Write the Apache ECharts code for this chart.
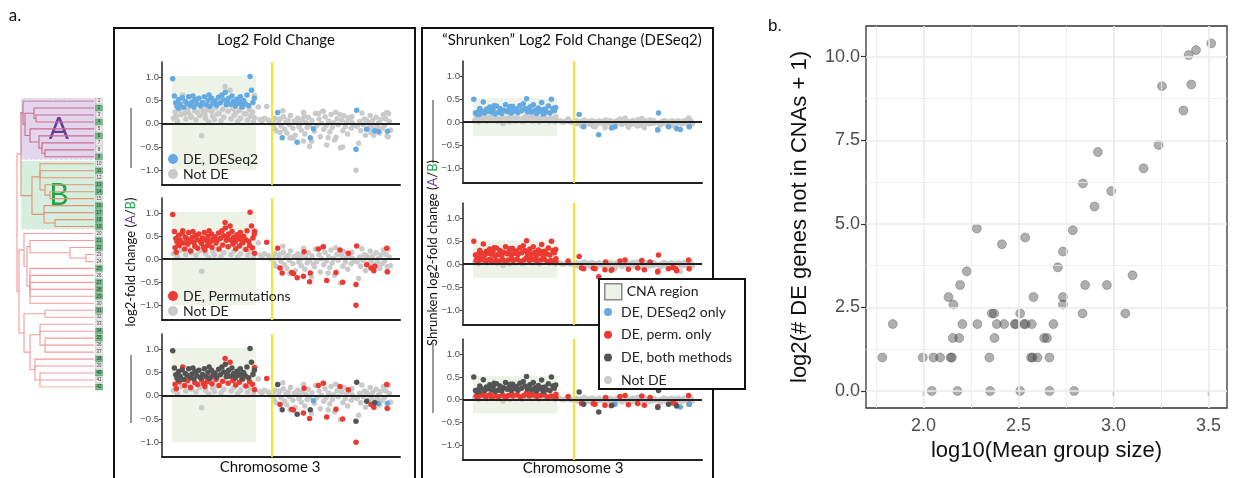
<!DOCTYPE html>
<html>
<head>
<meta charset="utf-8">
<script src="https://cdn.jsdelivr.net/npm/echarts@6/dist/echarts.min.js"></script>
<style>
  html, body { margin: 0; padding: 0; background: #ffffff; }
  #chart { width: 1233px; height: 478px; }
</style>
</head>
<body>
<div id="chart"></div>
<script>
// ---------------------------------------------------------------------------
// Data
// ---------------------------------------------------------------------------

// Chromosome 3 genes: [position along chromosome (%), log2FC, shrunken log2FC, DE class]
// DE class: 0 = not DE, 1 = DESeq2 only, 2 = permutations only, 3 = both methods
const chr3Genes = [
  // CNA region, DE by both methods
  [4.5,0.97,0.50,3],[5.2,0.60,0.20,3],[5.8,0.45,0.18,3],[6.3,0.38,0.22,3],[7.0,0.52,0.30,3],
  [7.6,0.42,0.25,3],[8.5,0.56,0.44,3],[9.1,0.35,0.20,3],[9.8,0.48,0.28,3],[10.5,0.44,0.24,3],
  [11.2,0.58,0.33,3],[11.9,0.40,0.22,3],[12.6,0.47,0.27,3],[13.4,0.36,0.18,3],[14.0,0.52,0.35,3],
  [14.7,0.43,0.21,3],[15.5,0.55,0.30,3],[16.2,0.39,0.19,3],[17.0,0.46,0.26,3],[17.8,0.58,0.38,3],
  [18.5,0.41,0.23,3],[19.3,0.50,0.28,3],[20.1,0.37,0.20,3],[20.8,0.55,0.34,3],[21.5,0.44,0.24,3],
  [22.3,0.49,0.29,3],[23.0,0.40,0.21,3],[23.8,0.57,0.36,3],[24.5,0.45,0.25,3],[25.2,0.62,0.40,3],
  [25.9,0.51,0.30,3],[26.6,0.68,0.51,3],[27.3,0.47,0.27,3],[28.0,0.55,0.33,3],[28.7,0.42,0.22,3],
  [29.4,0.60,0.38,3],[30.1,0.48,0.26,3],[30.8,0.38,0.19,3],[31.5,0.53,0.31,3],[32.2,0.44,0.24,3],
  [32.9,0.58,0.43,3],[33.6,0.36,0.18,3],[34.3,0.50,0.28,3],[35.0,0.43,0.22,3],[35.7,0.62,0.35,3],
  [36.4,0.39,0.20,3],[37.0,1.02,0.50,3],[37.6,0.72,0.30,3],[38.2,0.46,0.25,3],[38.8,0.55,0.32,3],
  [6.8,0.34,0.17,3],[13.0,0.60,0.36,3],[19.8,0.62,0.34,3],[27.0,0.41,0.23,3],[33.2,0.47,0.27,3],
  // CNA region, permutations only
  [5.5,0.25,0.08,2],[6.0,0.15,0.05,2],[7.3,0.30,0.09,2],[8.7,0.62,0.12,2],[9.5,0.22,0.06,2],
  [10.8,0.33,0.10,2],[12.0,0.18,0.05,2],[13.8,0.28,0.08,2],[15.0,0.24,0.07,2],[16.6,0.34,0.10,2],
  [18.0,0.20,0.06,2],[19.0,0.30,0.09,2],[21.0,0.26,0.08,2],[22.7,0.35,0.11,2],[24.0,0.22,0.06,2],
  [25.5,0.31,0.09,2],[26.5,0.80,0.14,2],[27.8,0.27,0.08,2],[28.6,0.72,0.13,2],[29.8,0.33,0.10,2],
  [31.0,0.23,0.07,2],[32.5,0.29,0.09,2],[34.0,0.36,0.11,2],[35.3,0.21,0.06,2],[36.8,0.30,0.08,2],
  [38.0,0.25,0.07,2],[38.9,0.61,0.12,2],[38.9,0.13,0.04,2],[11.5,0.38,0.11,2],[20.5,0.40,0.12,2],
  [30.5,0.42,0.12,2],[17.5,0.26,0.07,2],
  // CNA region, not DE
  [4.8,0.12,0.03,0],[6.5,0.05,0.01,0],[8.0,0.20,0.04,0],[10.0,0.10,0.02,0],[11.0,0.25,0.05,0],
  [12.3,0.14,0.03,0],[14.3,0.08,0.02,0],[15.8,0.18,0.04,0],[16.7,-0.26,-0.03,0],[18.3,0.12,0.03,0],
  [19.6,0.04,0.01,0],[21.3,0.16,0.03,0],[22.0,0.09,0.02,0],[23.4,0.21,0.05,0],[24.8,0.06,0.01,0],
  [26.0,0.14,0.03,0],[27.5,0.52,0.06,0],[29.0,0.10,0.02,0],[30.3,0.18,0.04,0],[31.8,0.05,0.01,0],
  [33.0,0.12,0.03,0],[34.6,0.22,0.05,0],[36.0,0.08,0.02,0],[37.3,0.16,0.04,0],[38.5,0.04,0.01,0],
  // between the CNA region and the centromere
  [40.5,0.36,0.03,0],[41.2,0.09,0.01,0],[42.0,0.04,0.00,0],[43.0,0.12,0.02,0],[44.6,0.08,0.01,0],
  [45.5,0.02,0.00,0],[44.0,0.37,0.07,2],
  // outside the CNA region, DE by both methods / DESeq2 only
  [48.6,0.24,0.17,3],[50.5,-0.30,-0.10,3],[56.8,-0.40,-0.27,3],[62.3,-0.30,-0.12,3],
  [81.8,0.29,0.20,3],[81.5,-0.55,-0.17,3],[86.0,-0.12,-0.10,3],[89.4,-0.15,-0.14,3],
  [63.6,-0.11,-0.10,1],[90.9,-0.17,-0.16,1],[94.7,-0.16,-0.10,1],
  // outside the CNA region, permutations only
  [49.6,-0.19,-0.08,2],[54.5,-0.29,-0.09,2],[55.2,-0.31,-0.10,2],[59.4,-0.37,-0.12,2],
  [59.7,0.16,0.05,2],[62.0,-0.49,-0.13,2],[65.7,0.22,0.07,2],[67.8,0.27,0.09,2],
  [69.2,-0.46,-0.11,2],[73.1,-0.29,-0.08,2],[74.8,0.20,0.08,2],[75.9,-0.50,-0.12,2],
  [78.3,0.13,0.05,2],[81.5,-1.00,-0.15,2],[87.8,-0.19,-0.07,2],[89.0,-0.25,-0.10,2],
  [94.4,0.24,0.09,2],[94.6,-0.27,-0.10,2],
  // outside the CNA region, not DE
  [46.5,0.05,0.01,0],[47.0,-0.08,-0.02,0],[47.5,0.12,0.03,0],[48.0,-0.15,-0.03,0],[49.0,0.02,0.00,0],
  [49.5,0.10,0.02,0],[50.0,-0.05,-0.01,0],[51.0,0.15,0.03,0],[51.5,-0.12,-0.03,0],[52.0,0.04,0.01,0],
  [52.5,-0.20,-0.04,0],[53.0,0.08,0.02,0],[53.5,-0.02,0.00,0],[54.0,0.18,0.04,0],[55.0,-0.10,-0.02,0],
  [55.5,0.06,0.01,0],[56.0,-0.25,-0.05,0],[57.0,0.12,0.03,0],[57.5,-0.06,-0.01,0],[58.0,0.00,0.00,0],
  [58.5,-0.14,-0.03,0],[59.0,0.09,0.02,0],[60.0,-0.22,-0.04,0],[60.5,0.03,0.01,0],[61.0,-0.08,-0.02,0],
  [61.5,0.14,0.03,0],[62.0,-0.03,-0.01,0],[63.0,0.07,0.01,0],[64.0,-0.16,-0.03,0],[64.5,0.22,0.04,0],
  [65.0,-0.05,-0.01,0],[66.0,0.10,0.02,0],[66.5,-0.28,-0.05,0],[67.0,0.01,0.00,0],[68.0,-0.12,-0.02,0],
  [68.5,0.15,0.03,0],[69.0,-0.04,-0.01,0],[70.0,0.06,0.01,0],[70.5,-0.18,-0.04,0],[71.0,0.20,0.04,0],
  [71.5,-0.08,-0.02,0],[72.0,0.02,0.00,0],[72.5,-0.35,-0.06,0],[73.5,0.11,0.02,0],[74.0,-0.02,0.00,0],
  [75.0,-0.52,-0.07,0],[75.5,0.08,0.02,0],[76.0,-0.15,-0.03,0],[76.5,0.17,0.03,0],[77.0,-0.06,-0.01,0],
  [77.5,0.04,0.01,0],[78.0,-0.22,-0.04,0],[79.0,0.09,0.02,0],[79.5,-0.10,-0.02,0],[80.0,0.02,0.00,0],
  [80.5,-0.04,-0.01,0],[82.0,-0.06,-0.01,0],[82.6,-0.42,-0.06,0],[83.0,0.05,0.01,0],[83.5,-0.15,-0.03,0],
  [84.0,0.23,0.04,0],[84.5,-0.02,0.00,0],[85.0,0.10,0.02,0],[85.5,-0.25,-0.05,0],[86.5,0.04,0.01,0],
  [87.0,-0.08,-0.02,0],[87.5,0.18,0.03,0],[88.0,-0.03,-0.01,0],[88.5,0.07,0.01,0],[89.0,-0.12,-0.02,0],
  [90.0,0.14,0.03,0],[90.5,-0.06,-0.01,0],[91.0,0.02,0.00,0],[91.5,-0.20,-0.04,0],[92.0,0.09,0.02,0],
  [92.5,-0.10,-0.02,0],[93.0,0.20,0.04,0],[93.5,-0.04,-0.01,0],[94.0,0.11,0.02,0],[95.0,-0.28,-0.05,0],
  [95.5,0.05,0.01,0],[96.0,-0.14,-0.03,0],[95.2,0.22,0.04,0],[73.0,0.25,0.05,0],[67.5,0.27,0.05,0],
  [59.5,0.24,0.04,0],[53.8,-0.31,-0.05,0],[50.8,0.28,0.05,0],[62.8,-0.38,-0.06,0],[57.2,0.02,0.00,0],
  [69.8,-0.30,-0.05,0],[79.8,0.15,0.03,0],[85.8,0.08,0.01,0]
];

// CNA region on chromosome 3: [start, end, lower, upper] in each panel's units
const cnaRegionLfc = [4.2, 39.5, -1.0, 1.03];
const cnaRegionShrunk = [4.2, 39.5, -0.3, 0.52];
const centromerePos = 46.2;
const lfcTicks = [-1, -0.5, 0, 0.5, 1];

// Clone dendrogram: internal node = [merge height, ...children]; leaf = clone number
const dendroTree = [77,
  [73,
    [71, 1, [69, [60, 2, [58, 3, 4]], [64, 5, [55, 6, [52, 7, [49, 8, 9]]]]]],
    [62, [54, 10, 11, 12, [49, 13, [44, 14, 15]]], [50, 16, 17, [39, 18, 19]]]
  ],
  [75,
    [70, 20, [67, [64, 21, [24, 22, [8, 23, 24]]], [64, 25, 26, 27, 28, 29, 30]]],
    [70, [49, 31, 32], [64, [54, 33, 34, [49, 35, 36, 37]], [59, 38, 39, [54, 40, 41, 42]]]]
  ]
];
// 1 = clone carries the CNA (green tag), 0 = does not
const leafTagged = [0,1,0,1,0,1,0,0,1,0, 1,0,1,1,0,1,1,1,1,0, 1,1,0,0,1,0,1,1,1,0,
                    1,0,0,1,1,0,0,1,0,1, 0,1];
// Highlighted clone groups: [label, first clone, last clone]
const cloneGroups = [['A', 1, 9], ['B', 10, 19]];

// Panel b: one point per comparison
const groupSizeLog10 = [
  3.514,3.434,3.395,3.409,3.255,3.368,3.237,2.918,3.158,2.839,2.988,2.900,2.281,2.786,2.535,2.413,
  2.734,2.707,2.228,3.100,2.193,2.851,2.965,2.132,2.579,2.734,2.158,2.734,2.360,2.372,2.509,2.837,
  3.062,1.839,2.205,2.284,2.386,2.425,2.480,2.487,2.528,2.538,2.570,2.684,2.155,2.188,2.374,2.635,
  2.650,1.784,1.997,2.053,2.088,2.143,2.150,2.347,2.566,2.574,2.600,2.663,2.044,2.179,2.351,2.509,
  2.663,2.793
];
const deGenesLog2 = [
  10.40,10.20,10.05,9.17,9.12,8.39,7.36,7.15,6.66,6.21,5.98,5.52,4.86,4.81,4.59,4.39,
  4.17,3.70,3.58,3.46,3.17,3.17,3.17,2.81,2.81,2.81,2.585,2.585,2.32,2.32,2.32,2.32,
  2.32,2.0,2.0,2.0,2.0,2.0,2.0,2.0,2.0,2.0,2.0,2.0,1.585,1.585,1.585,1.585,
  1.585,1.0,1.0,1.0,1.0,1.0,1.0,1.0,1.0,1.0,1.0,1.0,0,0,0,0,
  0,0
];
const bTicksX = [2.0, 2.5, 3.0, 3.5];
const bTicksY = [0, 2.5, 5.0, 7.5, 10.0];
const bMinorX = [1.75, 2.25, 2.75, 3.25];
const bMinorY = [1.25, 3.75, 6.25, 8.75];

// ---------------------------------------------------------------------------
// Styling
// ---------------------------------------------------------------------------
const FONT_A = 'Lato, "Open Sans", sans-serif';
const FONT_B = '"Liberation Sans", Arial, sans-serif';
const C = {
  notDE: '#cacaca', deseq: '#63a9e2', perm: '#ec3a32', both: '#545454',
  cna: '#edf3e6', yellow: '#f2e532', axis: '#222222',
  groupA: '#e3d6ec', groupB: '#d5eedf', edgeA: '#cc6a8c', edgeB: '#e3936f', edge: '#f39a9a',
  tagOn: '#55a66c', tagOff: '#e2e2e2', letterA: '#6a3d9a', letterB: '#1aa64a'
};

// ---------------------------------------------------------------------------
// Panel a: chromosome 3 scatter grids
// ---------------------------------------------------------------------------
const panels = [
  { left: 162, top: 62,  width: 238, height: 123, col: 2, mode: 'deseq' },
  { left: 162, top: 198, width: 238, height: 122, col: 2, mode: 'perm' },
  { left: 162, top: 334, width: 238, height: 123, col: 2, mode: 'all' },
  { left: 463, top: 61,  width: 239, height: 122, col: 3, mode: 'deseq' },
  { left: 463, top: 203, width: 239, height: 122, col: 3, mode: 'perm' },
  { left: 463, top: 339, width: 239, height: 121, col: 3, mode: 'all' }
];

const grids = [], xAxes = [], yAxes = [], series = [];
const fmtTick = v => (v < 0 ? '\u2212' : '') + Math.abs(v).toFixed(1);

function genePoints(col, test) {
  return chr3Genes.filter(g => test(g[3])).map(g => [g[0], g[col]]);
}

panels.forEach((p, i) => {
  grids.push({ left: p.left, top: p.top, width: p.width, height: p.height, containLabel: false });
  xAxes.push({
    gridIndex: i, type: 'value', min: 0, max: 100,
    axisLine: { show: true, onZero: false, lineStyle: { color: C.axis, width: 2 } },
    axisTick: { show: false }, axisLabel: { show: false }, splitLine: { show: false }
  });
  yAxes.push({
    gridIndex: i, type: 'value', min: -1.32, max: 1.33,
    axisLine: { show: true, onZero: false, lineStyle: { color: C.axis, width: 1.5 } },
    axisTick: { show: true, length: 3, customValues: lfcTicks, lineStyle: { color: '#444', width: 1 } },
    axisLabel: { customValues: lfcTicks, formatter: fmtTick, fontSize: 9.5, color: '#4d4d4d',
                 fontFamily: FONT_B, margin: 3 },
    splitLine: { show: false }
  });

  const region = p.col === 2 ? cnaRegionLfc : cnaRegionShrunk;
  series.push({
    type: 'custom', name: 'CNA region', xAxisIndex: i, yAxisIndex: i, z: 1, silent: true,
    itemStyle: { color: C.cna, borderColor: '#999', borderWidth: 1 },
    data: [region],
    renderItem: (params, api) => {
      const a = api.coord([api.value(0), api.value(3)]);
      const b = api.coord([api.value(1), api.value(2)]);
      return { type: 'rect', shape: { x: a[0], y: a[1], width: b[0] - a[0], height: b[1] - a[1] },
               style: { fill: C.cna } };
    }
  });

  const layers = [];
  if (p.mode === 'deseq') {
    layers.push(['Not DE', C.notDE, c => c === 0 || c === 2]);
    layers.push(['DE, DESeq2', C.deseq, c => c === 1 || c === 3]);
  } else if (p.mode === 'perm') {
    layers.push(['Not DE', C.notDE, c => c === 0 || c === 1]);
    layers.push(['DE, Permutations', C.perm, c => c === 2 || c === 3]);
  } else {
    layers.push(['Not DE', C.notDE, c => c === 0]);
    layers.push(['DE, perm. only', C.perm, c => c === 2]);
    layers.push(['DE, DESeq2 only', C.deseq, c => c === 1]);
    layers.push(['DE, both methods', C.both, c => c === 3]);
  }
  layers.forEach(([name, color, test]) => {
    series.push({
      type: 'scatter', name, xAxisIndex: i, yAxisIndex: i, z: 2, silent: true,
      symbolSize: 5.5, itemStyle: { color, opacity: 1 },
      data: genePoints(p.col === 2 ? 1 : 2, test)
    });
  });

  // zero line and centromere marker
  series.push({
    type: 'scatter', xAxisIndex: i, yAxisIndex: i, z: 3, silent: true, symbolSize: 0,
    data: [[0, 0]],
    markLine: {
      silent: true, symbol: ['none', 'none'], label: { show: false }, animation: false,
      data: [
        { xAxis: centromerePos, lineStyle: { color: C.yellow, width: 2, type: 'solid' } },
        { yAxis: 0, lineStyle: { color: C.axis, width: 2, type: 'solid' } }
      ]
    }
  });
});

// ---------------------------------------------------------------------------
// Dendrogram (grid 6)
// ---------------------------------------------------------------------------
const DG = grids.length;
grids.push({ left: 17, top: 101, width: 88, height: 286 });
xAxes.push({ gridIndex: DG, type: 'value', min: -11, max: 77, inverse: true, show: false });
yAxes.push({ gridIndex: DG, type: 'value', min: 1, max: 42, inverse: true, show: false });

const segments = [];
function groupColor(leaves) {
  for (const [label, a, b] of cloneGroups) {
    if (leaves.every(l => l >= a && l <= b)) return label === 'A' ? C.edgeA : C.edgeB;
  }
  return C.edge;
}
function layout(node) {
  if (typeof node === 'number') return { y: node, h: 0, leaves: [node] };
  const h = node[0];
  const kids = node.slice(1).map(layout);
  const y = (kids[0].y + kids[kids.length - 1].y) / 2;
  kids.forEach(k => {
    segments.push({ coords: [[h, y], [h, k.y], [k.h, k.y]], lineStyle: { color: groupColor(k.leaves) } });
  });
  return { y, h, leaves: kids.flatMap(k => k.leaves) };
}
layout(dendroTree);

series.push({
  type: 'custom', xAxisIndex: DG, yAxisIndex: DG, z: 1, silent: true, clip: false,
  data: cloneGroups.map(g => [g[1], g[2]]),
  renderItem: (params, api) => {
    const label = cloneGroups[params.dataIndex][0];
    const a = api.coord([73, api.value(0) - 0.45]);
    const b = api.coord([-3, api.value(1) + 0.45]);
    const cx = (a[0] + b[0]) / 2, cy = (a[1] + b[1]) / 2;
    return {
      type: 'group',
      children: [
        { type: 'rect', shape: { x: a[0], y: a[1], width: b[0] - a[0], height: b[1] - a[1] },
          style: { fill: label === 'A' ? C.groupA : C.groupB, stroke: '#ffffff', lineWidth: 1, lineDash: [3, 2] } },
        { type: 'text', z2: 10,
          style: { text: label, x: cx, y: cy, fill: label === 'A' ? C.letterA : C.letterB,
                   fontSize: 30, fontFamily: FONT_A, align: 'center', verticalAlign: 'middle',
                   textAlign: 'center', textVerticalAlign: 'middle' } }
      ]
    };
  }
});
series.push({
  type: 'lines', coordinateSystem: 'cartesian2d', xAxisIndex: DG, yAxisIndex: DG,
  polyline: true, z: 2, silent: true,
  lineStyle: { width: 1.1, opacity: 1 },
  data: segments
});
series.push({
  type: 'scatter', xAxisIndex: DG, yAxisIndex: DG, z: 3, silent: true,
  symbol: 'rect', symbolSize: [7, 6],
  data: leafTagged.map((t, i) => ({
    value: [-5, i + 1],
    itemStyle: { color: t ? C.tagOn : C.tagOff, borderColor: t ? '#3d8a53' : '#b0b0b0', borderWidth: 0.5 }
  })),
  label: { show: true, position: 'inside', formatter: p => String(p.value[1]),
           fontSize: 4.5, color: '#111', fontFamily: FONT_B }
});

// ---------------------------------------------------------------------------
// Panel b (grid 7)
// ---------------------------------------------------------------------------
const BG = grids.length;
grids.push({ left: 866, top: 26, width: 361, height: 382, show: true,
             borderColor: '#333', borderWidth: 1.3, backgroundColor: '#ffffff' });
xAxes.push({
  gridIndex: BG, type: 'value', min: 1.698, max: 3.597,
  axisLine: { show: false },
  axisTick: { show: true, length: 5, customValues: bTicksX, lineStyle: { color: '#333', width: 1.2 } },
  axisLabel: { customValues: bTicksX, formatter: v => v.toFixed(1), fontSize: 18, color: '#4d4d4d',
               fontFamily: FONT_B, margin: 9 },
  splitLine: { show: false },
  name: 'log10(Mean group size)', nameLocation: 'middle', nameGap: 32,
  nameTextStyle: { fontSize: 22, color: '#111', fontFamily: FONT_B }
});
yAxes.push({
  gridIndex: BG, type: 'value', min: -0.51, max: 10.92,
  axisLine: { show: false },
  axisTick: { show: true, length: 5, customValues: bTicksY, lineStyle: { color: '#333', width: 1.2 } },
  axisLabel: { customValues: bTicksY, formatter: v => v.toFixed(1), fontSize: 18, color: '#4d4d4d',
               fontFamily: FONT_B, margin: 6 },
  splitLine: { show: false },
  name: 'log2(# DE genes not in CNAs + 1)', nameLocation: 'middle', nameGap: 55,
  nameTextStyle: { fontSize: 22, color: '#111', fontFamily: FONT_B }
});
const gridLine = (key, v, w) => ({ [key]: v, lineStyle: { color: '#ebebeb', width: w, type: 'solid' } });
series.push({
  type: 'scatter', xAxisIndex: BG, yAxisIndex: BG, z: 1, silent: true, symbolSize: 0,
  data: [[2, 0]],
  markLine: {
    silent: true, symbol: ['none', 'none'], label: { show: false }, animation: false,
    data: [
      ...bMinorX.map(v => gridLine('xAxis', v, 0.8)),
      ...bMinorY.map(v => gridLine('yAxis', v, 0.8)),
      ...bTicksX.map(v => gridLine('xAxis', v, 1.6)),
      ...bTicksY.map(v => gridLine('yAxis', v, 1.6))
    ]
  }
});
series.push({
  type: 'scatter', xAxisIndex: BG, yAxisIndex: BG, z: 3, silent: true,
  symbolSize: 9,
  itemStyle: { color: 'rgba(72,72,72,0.55)', borderColor: 'rgba(40,40,40,0.35)', borderWidth: 1 },
  data: groupSizeLog10.map((x, i) => [x, deGenesLog2[i]])
});

// ---------------------------------------------------------------------------
// Legends
// ---------------------------------------------------------------------------
const legendText = { fontSize: 14, color: '#222', fontFamily: FONT_A, lineHeight: 14 };
const legends = [
  { data: ['DE, DESeq2', 'Not DE'], left: 168, top: 152, orient: 'vertical', icon: 'circle',
    itemWidth: 10, itemHeight: 10, itemGap: 1, padding: 0, selectedMode: false, textStyle: legendText, z: 10 },
  { data: ['DE, Permutations', 'Not DE'], left: 168, top: 289, orient: 'vertical', icon: 'circle',
    itemWidth: 10, itemHeight: 10, itemGap: 1, padding: 0, selectedMode: false, textStyle: legendText, z: 10 },
  { data: [{ name: 'CNA region', icon: 'rect',
             itemStyle: { color: C.cna, borderColor: '#8a8a8a', borderWidth: 1.5 } }],
    left: 604, top: 283, itemWidth: 17, itemHeight: 16, padding: 0, selectedMode: false,
    textStyle: legendText, z: 10 },
  { data: ['DE, DESeq2 only', 'DE, perm. only', 'DE, both methods', 'Not DE'],
    left: 604, top: 305, orient: 'vertical', icon: 'circle', itemWidth: 16, itemHeight: 8,
    itemGap: 8.7, padding: 0, selectedMode: false, textStyle: legendText, z: 10 }
];

// ---------------------------------------------------------------------------
// Frames, titles and annotations
// ---------------------------------------------------------------------------
const txt = (x, y, text, size, extra) => ({
  type: 'text', x, y, silent: true, z: 6,
  style: Object.assign({ text, fontSize: size, fontFamily: FONT_A, fill: '#111',
    align: 'center', verticalAlign: 'middle', textAlign: 'center', textVerticalAlign: 'middle' }, extra || {})
});
const vline = (x, y1, y2) => ({ type: 'line', silent: true, z: 6,
  shape: { x1: x, y1, x2: x, y2 }, style: { stroke: '#333', lineWidth: 1 } });
const richTitle = (x, y, lead) => ({
  type: 'text', x, y, rotation: Math.PI / 2, silent: true, z: 6,
  style: {
    text: '{n|' + lead + ' (}{a|A}{n|/}{b|B}{n|)}',
    align: 'center', verticalAlign: 'middle', textAlign: 'center', textVerticalAlign: 'middle',
    rich: {
      n: { fontSize: 13, fontFamily: FONT_A, fill: '#111' },
      a: { fontSize: 13, fontFamily: FONT_A, fill: C.letterA },
      b: { fontSize: 13, fontFamily: FONT_A, fill: C.letterB }
    }
  }
});

const graphic = [
  txt(15, 16, 'a.', 17, { fontFamily: FONT_A }),
  txt(775, 26, 'b.', 17, { fontFamily: FONT_B }),
  { type: 'polyline', silent: true, z: 6,
    shape: { points: [[114, 480], [114, 28], [415, 28], [415, 480]] },
    style: { stroke: '#111', lineWidth: 2, fill: null } },
  { type: 'polyline', silent: true, z: 6,
    shape: { points: [[422, 480], [422, 28], [713, 28], [713, 480]] },
    style: { stroke: '#111', lineWidth: 2, fill: null } },
  txt(276, 40, 'Log2 Fold Change', 15),
  txt(572, 40, '\u201CShrunken\u201D Log2 Fold Change (DESeq2)', 15),
  txt(270, 467, 'Chromosome 3', 15),
  txt(573, 468, 'Chromosome 3', 15),
  richTitle(131, 262, 'log2-fold change'),
  vline(131, 108, 168), vline(131, 355, 423),
  richTitle(433, 253, 'Shrunken log2-fold change'),
  vline(433, 100, 163), vline(433, 343, 413),
  { type: 'rect', silent: true, z: 8,
    shape: { x: 599, y: 279, width: 146, height: 110 },
    style: { fill: '#ffffff', stroke: '#111', lineWidth: 2 } }
];

const chart = echarts.init(document.getElementById('chart'), null, { renderer: 'canvas' });
chart.setOption({
  animation: false,
  backgroundColor: '#ffffff',
  grid: grids, xAxis: xAxes, yAxis: yAxes,
  legend: legends,
  graphic: { elements: graphic },
  series
});
</script>
</body>
</html>
